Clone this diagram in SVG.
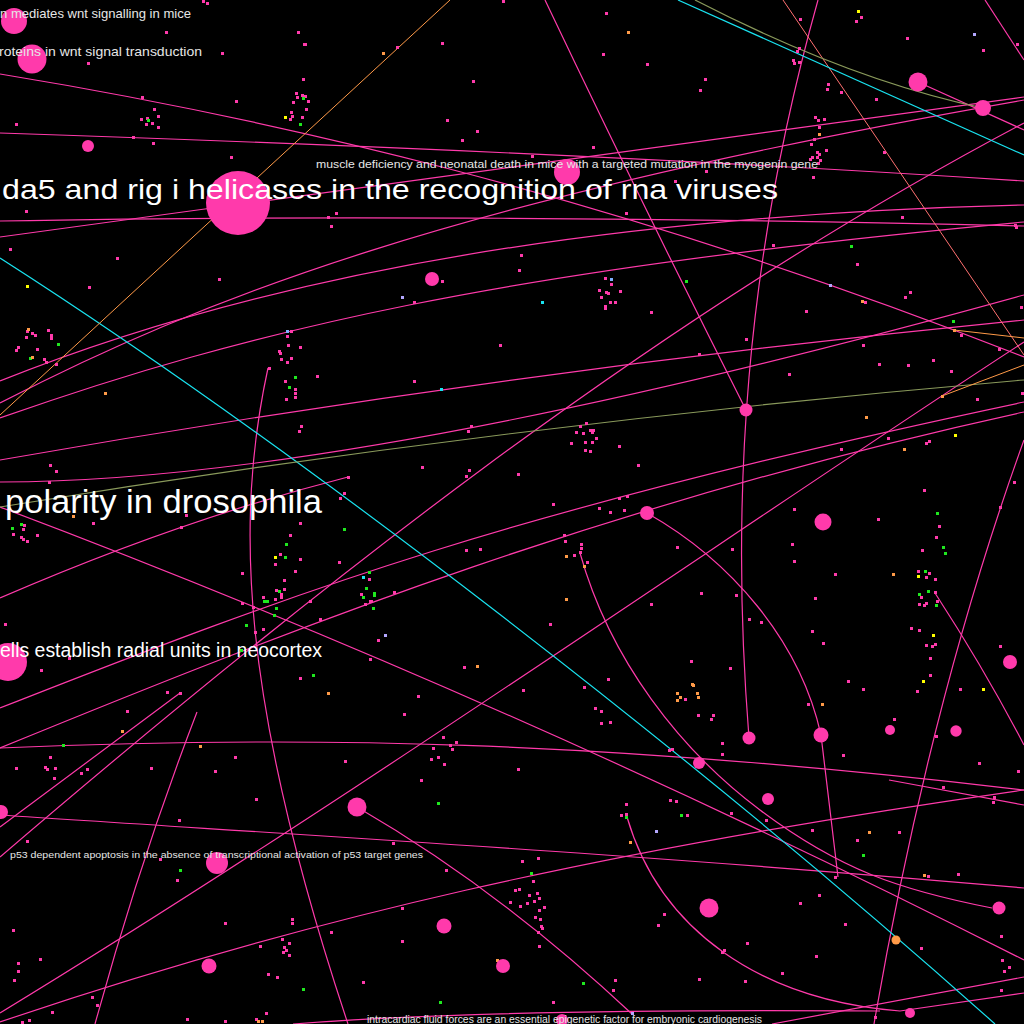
<svg xmlns="http://www.w3.org/2000/svg" width="1024" height="1024" viewBox="0 0 1024 1024">
<style>
.e{fill:none;stroke:#ff3aaa;stroke-width:1.2}
.cy{fill:none;stroke:#19e3f0;stroke-width:1.2}
.ol{fill:none;stroke:#8a9a5b;stroke-width:1.2}
.or{fill:none;stroke:#ff9a48;stroke-width:1}
.sa{fill:none;stroke:#ff7070;stroke-width:1}
.n{fill:#ff3aab}
.no{fill:#ff9a48}
.t{font-family:"Liberation Sans",Arial,sans-serif;fill:#ffffff}
.s{font-family:"Liberation Sans",Arial,sans-serif;fill:#e6e6e6}
</style>
<rect width="1024" height="1024" fill="#000"/>
<g id="connectors">
<path class="e" d="M0,74 C250,115 600,190 1024,357"/>
<path class="e" d="M0,133 C300,143 700,160 1024,181"/>
<path class="e" d="M0,237 L1024,97"/>
<path class="e" d="M0,221 C300,215 700,218 1024,226"/>
<path class="e" d="M0,381 Q400,220 1024,205"/>
<path class="e" d="M0,403 C200,300 450,200 1024,100"/>
<path class="e" d="M0,418 C250,330 500,270 1024,222"/>
<path class="e" d="M0,460 Q512,370 1024,320"/>
<path class="e" d="M0,482 Q350,482 1024,295"/>
<path class="e" d="M0,598 Q180,520 348,477"/>
<path class="e" d="M0,708 C300,590 512,510 1024,402"/>
<path class="e" d="M0,748 C300,625 620,500 1024,412"/>
<path class="e" d="M0,507 C300,620 650,770 1024,960"/>
<path class="e" d="M580,553 C610,660 680,750 760,810 S900,890 992,908"/>
<path class="e" d="M0,748 C300,735 600,740 1024,790"/>
<path class="e" d="M0,815 C300,835 650,855 1024,888"/>
<path class="e" d="M357,807 Q500,890 632,1014"/>
<path class="e" d="M0,1022 C300,920 600,850 1024,790"/>
<path class="e" d="M0,1013 C350,800 750,520 1024,342"/>
<path class="e" d="M0,857 C300,600 650,320 1024,123"/>
<path class="e" d="M0,827 L180,693"/>
<path class="e" d="M268,368 C235,520 240,700 348,1024"/>
<path class="e" d="M197,712 Q140,860 95,1024"/>
<path class="e" d="M545,0 Q640,200 746,410"/>
<path class="e" d="M818,0 C745,260 730,500 749,738"/>
<path class="e" d="M985,0 L1024,60"/>
<path class="e" d="M918,82 L1024,130"/>
<path class="e" d="M647,513 C730,560 800,640 821,735 L838,877"/>
<path class="e" d="M627,817 C660,930 760,1000 900,1011 L1024,993"/>
<path class="e" d="M293,1024 Q500,1008 880,1011"/>
<path class="e" d="M1024,440 Q930,700 874,1024"/>
<path class="e" d="M935,593 Q985,670 1024,745"/>
<path class="e" d="M889,780 L1024,805"/>
<path class="e" d="M772,1024 Q900,1000 1024,977"/>
<path class="sa" d="M783,0 L1024,355"/>
<path class="cy" d="M0,258 C300,450 700,760 995,1024"/>
<path class="cy" d="M678,0 L1024,155"/>
<path class="ol" d="M695,0 Q850,80 983,108"/>
<path class="ol" d="M0,507 Q500,425 1024,380"/>
<path class="or" d="M450,0 L0,415"/>
<path class="or" d="M954,330 L1024,338"/>
<path class="or" d="M942,396 L1024,365"/>
</g>
<g id="minor-nodes">
<path fill="#ff3aab" d="M202,0h3v3h-3zM206,2h3v3h-3zM165,31h3v3h-3zM297,31h3v3h-3zM303,43h3v3h-3zM221,52h3v3h-3zM87,62h3v3h-3zM302,78h3v3h-3zM295,92h3v3h-3zM296,96h3v3h-3zM301,94h3v3h-3zM304,95h3v3h-3zM307,100h3v3h-3zM292,101h3v3h-3zM305,108h3v3h-3zM290,111h3v3h-3zM291,115h3v3h-3zM289,118h3v3h-3zM301,116h3v3h-3zM235,100h3v3h-3zM141,96h3v3h-3zM153,108h3v3h-3zM157,115h3v3h-3zM140,118h3v3h-3zM146,117h3v3h-3zM145,123h3v3h-3zM151,122h3v3h-3zM157,126h3v3h-3zM15,123h3v3h-3zM132,136h3v3h-3zM152,142h3v3h-3zM230,156h3v3h-3zM25,210h3v3h-3zM327,216h3v3h-3zM335,212h3v3h-3zM330,225h3v3h-3zM605,12h3v3h-3zM304,43h3v3h-3zM396,46h3v3h-3zM441,42h3v3h-3zM602,53h3v3h-3zM472,80h3v3h-3zM446,119h3v3h-3zM476,130h3v3h-3zM461,139h3v3h-3zM592,146h3v3h-3zM531,155h3v3h-3zM378,187h3v3h-3zM502,0h3v3h-3zM646,63h3v3h-3zM704,78h3v3h-3zM699,89h3v3h-3zM799,18h3v3h-3zM860,16h3v3h-3zM855,20h3v3h-3zM906,37h3v3h-3zM982,49h3v3h-3zM1016,43h3v3h-3zM798,47h3v3h-3zM796,50h3v3h-3zM792,59h3v3h-3zM793,62h3v3h-3zM798,61h3v3h-3zM827,83h3v3h-3zM826,88h3v3h-3zM840,91h3v3h-3zM875,98h3v3h-3zM814,116h3v3h-3zM817,119h3v3h-3zM823,118h3v3h-3zM818,126h3v3h-3zM813,138h3v3h-3zM810,143h3v3h-3zM825,149h3v3h-3zM816,151h3v3h-3zM818,153h3v3h-3zM816,156h3v3h-3zM811,156h3v3h-3zM809,158h3v3h-3zM819,159h3v3h-3zM817,162h3v3h-3zM812,176h3v3h-3zM883,151h3v3h-3zM705,170h3v3h-3zM674,180h3v3h-3zM625,212h3v3h-3zM901,216h3v3h-3zM1014,224h3v3h-3zM1015,226h3v3h-3zM9,248h3v3h-3zM116,257h3v3h-3zM218,278h3v3h-3zM88,286h3v3h-3zM441,280h3v3h-3zM413,301h3v3h-3zM499,344h3v3h-3zM47,329h3v3h-3zM26,330h3v3h-3zM31,332h3v3h-3zM34,334h3v3h-3zM25,336h3v3h-3zM50,334h3v3h-3zM50,337h3v3h-3zM17,346h3v3h-3zM15,349h3v3h-3zM36,348h3v3h-3zM43,358h3v3h-3zM45,361h3v3h-3zM55,363h3v3h-3zM290,330h3v3h-3zM286,335h3v3h-3zM287,344h3v3h-3zM299,346h3v3h-3zM278,350h3v3h-3zM279,352h3v3h-3zM280,358h3v3h-3zM290,357h3v3h-3zM286,361h3v3h-3zM316,375h3v3h-3zM284,380h3v3h-3zM294,388h3v3h-3zM294,392h3v3h-3zM294,396h3v3h-3zM285,398h3v3h-3zM268,367h3v3h-3zM300,425h3v3h-3zM298,430h3v3h-3zM413,380h3v3h-3zM470,425h3v3h-3zM467,430h3v3h-3zM421,466h3v3h-3zM468,469h3v3h-3zM465,475h3v3h-3zM49,464h3v3h-3zM55,470h3v3h-3zM48,481h3v3h-3zM347,476h3v3h-3zM343,492h3v3h-3zM339,497h3v3h-3zM520,254h3v3h-3zM518,269h3v3h-3zM604,277h3v3h-3zM610,283h3v3h-3zM598,289h3v3h-3zM619,290h3v3h-3zM605,291h3v3h-3zM607,292h3v3h-3zM600,296h3v3h-3zM609,301h3v3h-3zM614,301h3v3h-3zM604,305h3v3h-3zM604,307h3v3h-3zM650,311h3v3h-3zM772,244h3v3h-3zM856,263h3v3h-3zM864,301h3v3h-3zM805,310h3v3h-3zM909,291h3v3h-3zM904,296h3v3h-3zM960,334h3v3h-3zM1020,306h3v3h-3zM998,348h3v3h-3zM745,338h3v3h-3zM862,344h3v3h-3zM878,363h3v3h-3zM907,364h3v3h-3zM932,359h3v3h-3zM950,370h3v3h-3zM698,353h3v3h-3zM788,373h3v3h-3zM976,398h3v3h-3zM840,448h3v3h-3zM887,437h3v3h-3zM925,442h3v3h-3zM928,440h3v3h-3zM1021,392h3v3h-3zM585,422h3v3h-3zM579,425h3v3h-3zM589,429h3v3h-3zM592,429h3v3h-3zM575,431h3v3h-3zM582,432h3v3h-3zM591,431h3v3h-3zM595,437h3v3h-3zM570,442h3v3h-3zM584,441h3v3h-3zM591,441h3v3h-3zM584,449h3v3h-3zM589,450h3v3h-3zM618,445h3v3h-3zM517,473h3v3h-3zM637,464h3v3h-3zM923,489h3v3h-3zM1013,481h3v3h-3zM552,503h3v3h-3zM618,497h3v3h-3zM626,495h3v3h-3zM598,507h3v3h-3zM793,508h3v3h-3zM999,506h3v3h-3zM92,522h3v3h-3zM180,526h3v3h-3zM185,514h3v3h-3zM23,524h3v3h-3zM22,528h3v3h-3zM12,533h3v3h-3zM20,536h3v3h-3zM22,538h3v3h-3zM26,540h3v3h-3zM36,534h3v3h-3zM299,522h3v3h-3zM289,534h3v3h-3zM279,553h3v3h-3zM299,558h3v3h-3zM274,563h3v3h-3zM294,570h3v3h-3zM241,572h3v3h-3zM283,579h3v3h-3zM283,588h3v3h-3zM275,589h3v3h-3zM280,593h3v3h-3zM280,596h3v3h-3zM262,596h3v3h-3zM274,598h3v3h-3zM241,602h3v3h-3zM252,606h3v3h-3zM254,631h3v3h-3zM262,628h3v3h-3zM338,561h3v3h-3zM368,578h3v3h-3zM360,593h3v3h-3zM369,600h3v3h-3zM370,600h3v3h-3zM364,603h3v3h-3zM393,591h3v3h-3zM309,600h3v3h-3zM319,618h3v3h-3zM377,639h3v3h-3zM369,658h3v3h-3zM465,549h3v3h-3zM479,548h3v3h-3zM463,666h3v3h-3zM417,695h3v3h-3zM403,713h3v3h-3zM442,736h3v3h-3zM432,747h3v3h-3zM455,741h3v3h-3zM449,744h3v3h-3zM451,748h3v3h-3zM437,756h3v3h-3zM430,758h3v3h-3zM443,763h3v3h-3zM420,779h3v3h-3zM344,760h3v3h-3zM299,677h3v3h-3zM4,623h3v3h-3zM40,669h3v3h-3zM68,657h3v3h-3zM166,691h3v3h-3zM179,692h3v3h-3zM126,710h3v3h-3zM49,756h3v3h-3zM234,756h3v3h-3zM150,767h3v3h-3zM214,770h3v3h-3zM15,767h3v3h-3zM44,766h3v3h-3zM46,768h3v3h-3zM54,767h3v3h-3zM53,777h3v3h-3zM80,772h3v3h-3zM86,768h3v3h-3zM609,511h3v3h-3zM623,509h3v3h-3zM877,518h3v3h-3zM938,525h3v3h-3zM563,534h3v3h-3zM564,540h3v3h-3zM580,543h3v3h-3zM580,547h3v3h-3zM579,551h3v3h-3zM573,554h3v3h-3zM586,561h3v3h-3zM676,546h3v3h-3zM731,548h3v3h-3zM791,543h3v3h-3zM793,560h3v3h-3zM935,536h3v3h-3zM921,549h3v3h-3zM834,573h3v3h-3zM917,570h3v3h-3zM928,572h3v3h-3zM925,576h3v3h-3zM934,578h3v3h-3zM934,591h3v3h-3zM920,596h3v3h-3zM936,600h3v3h-3zM925,602h3v3h-3zM918,603h3v3h-3zM923,604h3v3h-3zM814,597h3v3h-3zM700,592h3v3h-3zM650,603h3v3h-3zM735,594h3v3h-3zM748,618h3v3h-3zM760,621h3v3h-3zM549,623h3v3h-3zM811,630h3v3h-3zM910,627h3v3h-3zM918,629h3v3h-3zM822,642h3v3h-3zM925,644h3v3h-3zM931,645h3v3h-3zM934,643h3v3h-3zM999,645h3v3h-3zM929,657h3v3h-3zM929,674h3v3h-3zM916,690h3v3h-3zM959,688h3v3h-3zM847,680h3v3h-3zM862,688h3v3h-3zM729,667h3v3h-3zM690,660h3v3h-3zM684,698h3v3h-3zM522,689h3v3h-3zM607,678h3v3h-3zM583,686h3v3h-3zM594,707h3v3h-3zM600,710h3v3h-3zM600,722h3v3h-3zM609,721h3v3h-3zM697,714h3v3h-3zM712,714h3v3h-3zM710,718h3v3h-3zM807,703h3v3h-3zM893,718h3v3h-3zM935,735h3v3h-3zM721,742h3v3h-3zM668,749h3v3h-3zM671,748h3v3h-3zM721,753h3v3h-3zM842,754h3v3h-3zM978,762h3v3h-3zM1017,770h3v3h-3zM942,786h3v3h-3zM517,768h3v3h-3zM255,798h3v3h-3zM178,819h3v3h-3zM26,840h3v3h-3zM392,842h3v3h-3zM159,858h3v3h-3zM176,879h3v3h-3zM445,869h3v3h-3zM509,901h3v3h-3zM12,929h3v3h-3zM39,958h3v3h-3zM17,962h3v3h-3zM17,970h3v3h-3zM13,979h3v3h-3zM224,922h3v3h-3zM291,918h3v3h-3zM291,922h3v3h-3zM330,931h3v3h-3zM401,907h3v3h-3zM401,940h3v3h-3zM288,942h3v3h-3zM281,938h3v3h-3zM283,946h3v3h-3zM285,949h3v3h-3zM282,951h3v3h-3zM288,954h3v3h-3zM259,945h3v3h-3zM91,996h3v3h-3zM96,1004h3v3h-3zM51,1011h3v3h-3zM21,1021h3v3h-3zM28,1019h3v3h-3zM186,1018h3v3h-3zM224,1020h3v3h-3zM267,973h3v3h-3zM276,976h3v3h-3zM265,1012h3v3h-3zM255,1018h3v3h-3zM362,981h3v3h-3zM625,803h3v3h-3zM669,799h3v3h-3zM675,800h3v3h-3zM620,814h3v3h-3zM625,813h3v3h-3zM686,814h3v3h-3zM730,812h3v3h-3zM765,819h3v3h-3zM811,829h3v3h-3zM856,839h3v3h-3zM898,831h3v3h-3zM993,796h3v3h-3zM992,801h3v3h-3zM521,860h3v3h-3zM537,857h3v3h-3zM532,880h3v3h-3zM514,889h3v3h-3zM518,888h3v3h-3zM528,894h3v3h-3zM536,892h3v3h-3zM538,897h3v3h-3zM533,900h3v3h-3zM526,902h3v3h-3zM519,905h3v3h-3zM543,906h3v3h-3zM538,909h3v3h-3zM534,916h3v3h-3zM539,918h3v3h-3zM540,925h3v3h-3zM541,927h3v3h-3zM537,931h3v3h-3zM538,945h3v3h-3zM663,913h3v3h-3zM657,924h3v3h-3zM834,876h3v3h-3zM927,875h3v3h-3zM957,873h3v3h-3zM818,894h3v3h-3zM799,902h3v3h-3zM844,923h3v3h-3zM920,947h3v3h-3zM815,955h3v3h-3zM746,942h3v3h-3zM721,951h3v3h-3zM723,949h3v3h-3zM781,972h3v3h-3zM744,980h3v3h-3zM698,978h3v3h-3zM1000,935h3v3h-3zM1001,959h3v3h-3zM1008,966h3v3h-3zM1003,970h3v3h-3zM1000,989h3v3h-3zM874,1016h3v3h-3zM614,979h3v3h-3zM612,989h3v3h-3zM552,1001h3v3h-3z"/>
<path fill="#1fe81f" d="M302,97h3v3h-3zM299,123h3v3h-3zM147,119h3v3h-3zM57,343h3v3h-3zM29,357h3v3h-3zM294,376h3v3h-3zM288,386h3v3h-3zM685,280h3v3h-3zM850,245h3v3h-3zM952,320h3v3h-3zM11,527h3v3h-3zM20,523h3v3h-3zM285,543h3v3h-3zM284,556h3v3h-3zM343,528h3v3h-3zM368,571h3v3h-3zM365,587h3v3h-3zM373,592h3v3h-3zM373,594h3v3h-3zM362,596h3v3h-3zM372,607h3v3h-3zM263,600h3v3h-3zM266,600h3v3h-3zM275,607h3v3h-3zM273,614h3v3h-3zM245,624h3v3h-3zM240,649h3v3h-3zM312,674h3v3h-3zM62,744h3v3h-3zM936,512h3v3h-3zM942,546h3v3h-3zM944,552h3v3h-3zM924,570h3v3h-3zM918,593h3v3h-3zM927,590h3v3h-3zM935,604h3v3h-3zM437,802h3v3h-3zM179,869h3v3h-3zM302,988h3v3h-3zM439,1001h3v3h-3zM625,816h3v3h-3zM680,814h3v3h-3zM862,854h3v3h-3zM530,872h3v3h-3zM582,982h3v3h-3zM278,590h3v3h-3z"/>
<path fill="#ff9a48" d="M382,52h3v3h-3zM627,31h3v3h-3zM818,133h3v3h-3zM27,328h3v3h-3zM31,356h3v3h-3zM104,392h3v3h-3zM861,300h3v3h-3zM953,329h3v3h-3zM941,395h3v3h-3zM865,416h3v3h-3zM903,448h3v3h-3zM72,515h3v3h-3zM327,692h3v3h-3zM121,730h3v3h-3zM199,745h3v3h-3zM476,665h3v3h-3zM565,555h3v3h-3zM583,565h3v3h-3zM565,598h3v3h-3zM892,573h3v3h-3zM692,684h3v3h-3zM691,683h3v3h-3zM696,692h3v3h-3zM697,696h3v3h-3zM676,692h3v3h-3zM679,696h3v3h-3zM676,699h3v3h-3zM821,703h3v3h-3zM257,1020h3v3h-3zM261,1020h3v3h-3zM496,959h3v3h-3zM629,841h3v3h-3zM868,831h3v3h-3zM923,874h3v3h-3z"/>
<path fill="#ffff00" d="M284,116h3v3h-3zM857,10h3v3h-3zM26,285h3v3h-3zM274,556h3v3h-3zM917,575h3v3h-3zM932,634h3v3h-3zM922,680h3v3h-3zM982,688h3v3h-3zM954,434h3v3h-3z"/>
<path fill="#b4a8ff" d="M973,33h3v3h-3zM401,296h3v3h-3zM829,284h3v3h-3zM384,634h3v3h-3zM631,1012h3v3h-3zM655,830h3v3h-3z"/>
<path fill="#19e3f0" d="M440,388h3v3h-3zM541,301h3v3h-3zM362,576h3v3h-3z"/>
<path fill="#7fb0ff" d="M286,330h3v3h-3zM610,278h3v3h-3z"/>
</g>
<g id="node-1"><circle class="n" cx="14" cy="21" r="13"/></g>
<g id="node-2"><circle class="n" cx="32" cy="59" r="14.5"/></g>
<g id="node-3"><circle class="n" cx="88" cy="146" r="6"/></g>
<g id="node-4"><circle class="n" cx="238" cy="203" r="32"/></g>
<g id="node-5"><circle class="n" cx="567" cy="172" r="13"/></g>
<g id="node-6"><circle class="n" cx="918" cy="82" r="9.5"/></g>
<g id="node-7"><circle class="n" cx="983" cy="108" r="8"/></g>
<g id="node-8"><circle class="n" cx="432" cy="279" r="7"/></g>
<g id="node-9"><circle class="n" cx="746" cy="410" r="6.5"/></g>
<g id="node-10"><circle class="n" cx="647" cy="513" r="7"/></g>
<g id="node-11"><circle class="n" cx="823" cy="522" r="8.5"/></g>
<g id="node-12"><circle class="n" cx="1010" cy="662" r="7"/></g>
<g id="node-13"><circle class="n" cx="749" cy="738" r="6.5"/></g>
<g id="node-14"><circle class="n" cx="821" cy="735" r="7.5"/></g>
<g id="node-15"><circle class="n" cx="890" cy="730" r="5"/></g>
<g id="node-16"><circle class="n" cx="956" cy="731" r="5.7"/></g>
<g id="node-17"><circle class="n" cx="699" cy="763" r="6"/></g>
<g id="node-18"><circle class="n" cx="8" cy="662" r="19"/></g>
<g id="node-19"><circle class="n" cx="357" cy="807" r="9.5"/></g>
<g id="node-20"><circle class="n" cx="217" cy="863" r="11"/></g>
<g id="node-21"><circle class="n" cx="1" cy="812" r="7"/></g>
<g id="node-22"><circle class="n" cx="444" cy="926" r="7.5"/></g>
<g id="node-23"><circle class="n" cx="209" cy="966" r="7.5"/></g>
<g id="node-24"><circle class="n" cx="503" cy="966" r="7"/></g>
<g id="node-25"><circle class="n" cx="768" cy="799" r="6"/></g>
<g id="node-26"><circle class="n" cx="709" cy="908" r="9.5"/></g>
<g id="node-27"><circle class="n" cx="999" cy="908" r="6.5"/></g>
<g id="node-28"><circle class="no" cx="896" cy="940" r="4.5"/></g>
<g id="node-29"><circle class="n" cx="910" cy="1013" r="5"/></g>
<g id="node-30"><circle class="n" cx="562" cy="1020" r="6"/></g>
<g id="labels">
<text class="s" x="0" y="18" font-size="13" textLength="191" lengthAdjust="spacingAndGlyphs">n mediates wnt signalling in mice</text>
<text class="s" x="-1" y="56" font-size="13" textLength="203" lengthAdjust="spacingAndGlyphs">roteins in wnt signal transduction</text>
<text class="s" x="316" y="168" font-size="11.5" textLength="502" lengthAdjust="spacingAndGlyphs">muscle deficiency and neonatal death in mice with a targeted mutation in the myogenin gene</text>
<text class="t" x="2" y="199" font-size="28" textLength="776" lengthAdjust="spacingAndGlyphs">da5 and rig i helicases in the recognition of rna viruses</text>
<text class="t" x="5" y="513" font-size="33" textLength="317" lengthAdjust="spacingAndGlyphs">polarity in drosophila</text>
<text class="t" x="0" y="657" font-size="19.5" textLength="322" lengthAdjust="spacingAndGlyphs">ells establish radial units in neocortex</text>
<text class="s" x="10" y="858" font-size="9" textLength="413" lengthAdjust="spacingAndGlyphs">p53 dependent apoptosis in the absence of transcriptional activation of p53 target genes</text>
<text class="s" x="367" y="1023" font-size="10" textLength="395" lengthAdjust="spacingAndGlyphs">intracardiac fluid forces are an essential epigenetic factor for embryonic cardiogenesis</text>
</g>
</svg>
